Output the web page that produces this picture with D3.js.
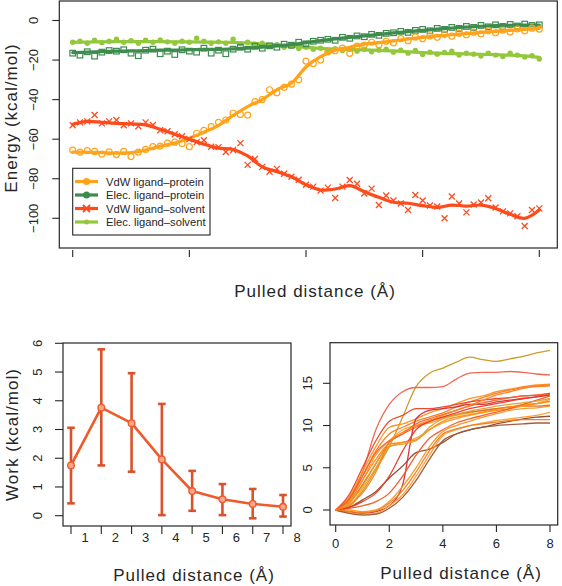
<!DOCTYPE html>
<html><head><meta charset="utf-8">
<script src="https://cdn.jsdelivr.net/npm/d3@7"></script>
<style>
body{margin:0;background:#fff}
svg{display:block}
text{font-family:"Liberation Sans",Arial,Helvetica,sans-serif;fill:#262626}
</style>
</head><body>
<svg id="c" width="562" height="586"></svg>
<script>
// ---------------- DATA ----------------
// Top panel: energies vs pulled distance (points every 0.125 Å, fits every 0.25 Å)
const energyDist = d3.range(65).map(i => i * 0.125);
const fitDist = d3.range(33).map(i => i * 0.25);
const seriesNames = ["VdW ligand\u2013protein", "Elec. ligand\u2013protein", "VdW ligand\u2013solvent", "Elec. ligand\u2013solvent"];
const seriesColors = ["#FFA31A", "#3E8B4E", "#FF4A1C", "#93C83A"];

const vdwProtein = [-65.5,-66.5,-65.8,-66.2,-67.5,-66.4,-67.8,-66.2,-68.8,-66.5,-65.2,-63.8,-63.5,-62,-61.5,-62.2,-63.8,-57,-55.5,-53.7,-51.5,-50.3,-46.9,-47.5,-47.8,-41,-40,-35,-36.5,-33.8,-32.2,-30,-20.5,-21.8,-20,-15.8,-15.3,-14,-16.6,-13,-12.4,-11,-12.2,-10.5,-11.3,-9.2,-10.2,-8.3,-9.2,-7.8,-8.5,-7,-7.9,-6.4,-7.2,-5.9,-6.7,-5.2,-6.2,-4.9,-5.8,-4.3,-5.2,-3.9,-4.4];
const elecProtein = [-16.5,-17.5,-15.8,-18,-16,-15.2,-15.5,-14.8,-16.5,-17.8,-15,-14.5,-16.8,-15.5,-17.2,-14.8,-15.5,-16,-14,-16.5,-15,-16.8,-14.5,-13.5,-14.5,-13,-14,-12.8,-13.5,-12,-12.5,-11,-11.8,-10.5,-10,-9.5,-10,-8.5,-9,-7.8,-8.2,-7,-7.5,-6.5,-6.2,-5.5,-6,-5,-4.5,-5.2,-4,-4.5,-3.5,-4,-3,-3.5,-2.5,-3.2,-2.2,-3,-2,-2.8,-1.8,-2.5,-2.2];
const vdwSolvent = [-53,-51.5,-51,-47.8,-52,-51,-50.3,-53,-52,-53.5,-51.5,-52.8,-55.5,-56,-57.5,-58.5,-60,-61.5,-60.5,-63.8,-64,-66.5,-65.5,-62,-73,-70,-74,-76.5,-75,-77.5,-79,-80.5,-83,-84,-86,-84.5,-89.7,-84,-80.6,-82.5,-87.5,-85,-93.3,-88.5,-91,-92.5,-95.8,-88.2,-91,-93.5,-94,-100,-89,-92.5,-97,-93,-92,-89.9,-94.5,-96.5,-97.5,-99,-103.9,-95.8,-95];
const elecSolvent = [-11,-10.5,-11.5,-10,-11.2,-10.5,-9.5,-11,-10.2,-11.5,-10,-11,-9.8,-10.8,-11.5,-10.5,-11,-9,-10.5,-11.5,-10.8,-11.5,-9.5,-11.8,-11,-12,-11.5,-12.8,-12.2,-13.5,-13,-14.2,-13.5,-14.5,-14,-15,-14.2,-15.2,-14.5,-15.5,-14.5,-15.8,-15,-14.5,-16,-15,-16.5,-15.2,-17.2,-16,-17,-16.2,-15.5,-17.5,-16.5,-17,-18,-16.5,-17.5,-18.2,-16.5,-17.5,-18.5,-17.8,-19.5];

const vdwProteinFit = [-66.5,-66.6,-66.8,-67,-66.8,-65.5,-63.5,-62,-59.5,-56.5,-53,-48,-43.5,-40,-35,-31.7,-23.5,-18.3,-15,-13.5,-12,-11.2,-10.3,-9.3,-8.5,-7.8,-7.2,-6.6,-6,-5.5,-5,-4.5,-4];
const elecProteinFit = [-16.2,-16,-15.7,-15.5,-15.4,-15.2,-15,-15,-14.8,-14.6,-14.6,-14.3,-14,-13.5,-12.9,-12.2,-11.2,-10.2,-9.3,-8.5,-7.8,-7,-6.3,-5.6,-5,-4.4,-3.8,-3.3,-2.9,-2.6,-2.4,-2.3,-2.3];
const vdwSolventFit = [-52.5,-51,-51.5,-52,-52.3,-52.8,-55,-57.5,-60,-62.5,-64.5,-65.2,-68.5,-74,-76.4,-79,-83,-85.7,-85.2,-83.5,-86.5,-89.4,-91.9,-92.4,-93.6,-94.5,-93.3,-93.8,-93.3,-95,-98,-100,-95.8];
const elecSolventFit = [-11,-10.9,-10.8,-10.7,-10.7,-10.7,-10.7,-10.8,-10.8,-10.9,-11,-11.1,-11.3,-11.8,-12.3,-12.9,-13.6,-14.1,-14.4,-14.7,-14.9,-15.1,-15.4,-15.8,-16.2,-16.5,-16.7,-16.9,-17.1,-17.3,-17.5,-17.9,-18.6];

const energyTicksY = [0,-20,-40,-60,-80,-100];
const energyTicksX = [0,2,4,6,8];

// Bottom-left: work per distance bin
const workBin = [1,2,3,4,5,6,7,8];
const workMean = [1.75,3.76,3.22,1.96,0.86,0.57,0.41,0.31];
const workLow  = [0.43,1.75,1.53,0.02,0.17,0.02,-0.09,-0.03];
const workHigh = [3.06,5.79,4.96,3.89,1.56,1.10,0.93,0.72];
const workTicksY = [0,1,2,3,4,5,6];

// Bottom-right: individual pulling work curves (values every 0.5 Å)
const curveDist = d3.range(17).map(i => i * 0.5);
const pullCurves = [
  [0,0.4,2.2,4.8,7.5,11,14.6,16.2,16.8,17.5,18.1,17.8,17.6,17.9,18.2,18.6,18.9],
  [0,1.2,4.5,9.5,12.5,14,14.5,14.5,14.6,15.5,16.2,16.3,16.3,16.4,16.3,16.1,16],
  [0,1.5,4.5,7.5,9.8,10.2,10.8,11.5,12,12.6,13.2,13.5,14,14.3,14.6,14.8,14.9],
  [0,1.2,4,7,9,9.8,10.5,11,11.5,12.2,12.8,13.3,13.8,14.2,14.5,14.6,14.7],
  [0,1.8,5,8.2,10.5,11.2,12,12,12.2,12.5,12.8,13,13.2,13.3,13.5,13.6,13.8],
  [0,1,3.5,6.5,8.2,9.5,10,10.3,10.8,11.2,11.5,11.8,12,12.2,12.5,12.6,12.8],
  [0,0.8,3,5.5,8,9,9.8,10.5,11,11.3,11.6,11.8,12,12.2,12.3,12.3,12.4],
  [0,0.5,2.5,5,7.5,8,8.5,9.5,10.3,10.8,11.2,11.5,11.8,12,12.3,12.6,13.1],
  [0,0.3,1.2,2.2,3.8,5.2,6.8,7.2,8,9,9.5,9.8,10.2,10.5,10.8,11,11.1],
  [0,-0.2,-0.4,-0.2,0.5,3,10.8,11.8,12,12.2,12.5,12.5,12.8,13,13.2,13.4,13.6],
  [0,-0.3,-0.5,-0.4,0.5,1.8,4,6.5,8.8,9.5,10,10.3,10.6,10.8,11,11.2,11.6],
  [0,-0.2,-0.3,-0.1,0.8,2.3,4.5,7,9,9.6,10,10.2,10.4,10.6,10.7,10.7,10.7],
  [0,-0.4,-0.6,-0.5,0.2,1.5,3.5,6,8.2,9,9.5,9.8,10,10.1,10.2,10.3,10.3],
  [0,0,-0.2,0,1,2.8,5,7.5,9.3,10,10.5,11,11.4,11.8,12,12.1,12.3],
  [0,0.2,0.5,1,2,4,6.5,8.5,9.5,10.3,10.8,11.2,11.6,12,12.5,13,13.5],
  [0,0.3,1,2,4,7,9.5,10.5,11,11.5,12,12.3,12.6,12.9,13.2,13.4,13.8],
  [0,1,3.5,6,7.8,8,8.3,9.5,10.5,11,11.3,11.6,11.9,12.2,12.4,12.6,12.9],
  [0,0.8,2.8,5.5,7.5,7.8,8.2,9.8,10.8,11.3,11.7,12,12.3,12.5,12.7,12.9,13.2],
  [0,1.3,4,6.8,8.2,9,10.2,10.8,11.3,11.8,12.3,12.7,13,13.3,13.5,13.6,13.7],
  [0,0.6,2,4.5,8,9.2,10,10.6,11.2,11.8,12.4,13,13.6,14,14.4,14.7,14.8]
];
const curveColors = ["#C9961E","#F0604A","#FF8C1A","#F47A20","#E8452A","#FFA030","#E06A1E","#F59A2A","#8F4A2A","#D42A3A","#FF9A2A","#F07C1E","#9A5535","#F7931E","#EE5A24","#E63A2A","#FF8A10","#DAA030","#F06428","#FF7F1A"];
const pullTicksX = [0,2,4,6,8];
const pullTicksY = [0,5,10,15];

// ---------------- DRAW ----------------
const svg = d3.select("#c");
const ink = "#262626";
const minus = d => d < 0 ? "\u2212" + Math.abs(d) : String(d);

function box(x0, y0, x1, y1) {
  svg.append("rect").attr("x", x0).attr("y", y0).attr("width", x1 - x0).attr("height", y1 - y0)
    .attr("fill", "none").attr("stroke", ink).attr("stroke-width", 1.2);
}
function yAxis(scale, ticks, xEdge, len, labelX, size) {
  const g = svg.append("g");
  g.selectAll("line").data(ticks).join("line")
    .attr("x1", xEdge - len).attr("x2", xEdge).attr("y1", d => scale(d)).attr("y2", d => scale(d))
    .attr("stroke", ink).attr("stroke-width", 1.1);
  g.selectAll("text").data(ticks).join("text")
    .attr("transform", d => `translate(${labelX},${scale(d)}) rotate(-90)`)
    .attr("text-anchor", "middle").attr("font-size", size).text(minus);
}
function xTicks(scale, ticks, yEdge, len) {
  svg.append("g").selectAll("line").data(ticks).join("line")
    .attr("x1", d => scale(d)).attr("x2", d => scale(d)).attr("y1", yEdge).attr("y2", yEdge + len)
    .attr("stroke", ink).attr("stroke-width", 1.1);
}
function xLabels(scale, ticks, dx, yBase, size) {
  svg.append("g").selectAll("text").data(ticks).join("text")
    .attr("x", d => scale(d) + dx).attr("y", yBase).attr("text-anchor", "middle")
    .attr("font-size", size).text(d => d);
}
function title(txt, x, y, rot, size) {
  svg.append("text").attr("transform", `translate(${x},${y})` + (rot ? " rotate(-90)" : ""))
    .attr("text-anchor", "middle").attr("font-size", size).attr("letter-spacing", 1).text(txt);
}

// ===== Top panel =====
const xE = d3.scaleLinear([0, 8], [72.7, 539.3]);
const yE = d3.scaleLinear([0, -100], [20.5, 218.3]);
box(59.3, 1, 557.3, 248);
yAxis(yE, energyTicksY, 59.3, 7, 38, 13);
xTicks(xE, energyTicksX, 250, 7);
title("Energy (kcal/mol)", 16.5, 118, true, 17);
title("Pulled distance (\u00C5)", 315, 297, false, 17);

const pointSets = [vdwProtein, elecProtein, vdwSolvent, elecSolvent];
const fitSets = [vdwProteinFit, elecProteinFit, vdwSolventFit, elecSolventFit];
const line = d3.line().curve(d3.curveCatmullRom.alpha(0.5));

function drawMarkers(k, data) {
  const g = svg.append("g");
  const c = seriesColors[k];
  const pts = data.map((v, i) => [xE(energyDist[i]), yE(v)]);
  if (k === 0) {
    g.selectAll("circle").data(pts).join("circle").attr("cx", d => d[0]).attr("cy", d => d[1])
      .attr("r", 3).attr("fill", "none").attr("stroke", c).attr("stroke-width", 1.2);
  } else if (k === 1) {
    g.selectAll("rect").data(pts).join("rect").attr("x", d => d[0] - 2.8).attr("y", d => d[1] - 2.8)
      .attr("width", 5.6).attr("height", 5.6).attr("fill", "none").attr("stroke", c).attr("stroke-width", 1.2);
  } else if (k === 2) {
    g.selectAll("path").data(pts).join("path")
      .attr("d", d => `M${d[0]-3},${d[1]-3}L${d[0]+3},${d[1]+3}M${d[0]-3},${d[1]+3}L${d[0]+3},${d[1]-3}`)
      .attr("stroke", c).attr("stroke-width", 1.3).attr("fill", "none");
  } else {
    g.selectAll("circle").data(pts).join("circle").attr("cx", d => d[0]).attr("cy", d => d[1])
      .attr("r", 2.7).attr("fill", c);
  }
}
function drawFit(k) {
  svg.append("path").attr("d", line(fitSets[k].map((v, i) => [xE(fitDist[i]), yE(v)])))
    .attr("fill", "none").attr("stroke", seriesColors[k]).attr("stroke-width", 3.2)
    .attr("stroke-linejoin", "round").attr("stroke-linecap", "round");
}
[3, 1, 0, 2].forEach(k => { drawMarkers(k, pointSets[k]); drawFit(k); });

// legend
svg.append("rect").attr("x", 72.7).attr("y", 168.3).attr("width", 137.3).attr("height", 66.7)
  .attr("fill", "#fff").attr("stroke", ink).attr("stroke-width", 1.1);
const legY = [181.5, 195, 208.5, 222];
seriesNames.forEach((name, k) => {
  const y = legY[k], c = seriesColors[k];
  svg.append("line").attr("x1", 75).attr("x2", 98).attr("y1", y).attr("y2", y)
    .attr("stroke", c).attr("stroke-width", 3.2);
  if (k === 2) {
    svg.append("path").attr("d", `M83,${y-3.5}L90,${y+3.5}M83,${y+3.5}L90,${y-3.5}`)
      .attr("stroke", c).attr("stroke-width", 2);
  } else {
    svg.append("circle").attr("cx", 86.5).attr("cy", y).attr("r", k === 3 ? 2.5 : 3.5).attr("fill", c);
  }
  svg.append("text").attr("x", 106).attr("y", y + 4).attr("font-size", 11.2).attr("fill", "#333").text(name);
});

// ===== Bottom-left panel =====
const xW = d3.scaleLinear([1, 8], [71, 283]);
const yW = d3.scaleLinear([0, 6], [515.7, 343.3]);
box(63, 343, 291, 526);
yAxis(yW, workTicksY, 63, 8, 41.5, 13);
xTicks(xW, workBin, 526, 8);
xLabels(xW, workBin, 14, 541.7, 13);
title("Work (kcal/mol)", 18, 434.5, true, 17);
title("Pulled distance (\u00C5)", 194, 580.5, false, 17);

const barCol = "#D9522C", lineCol = "#EF5A2A";
const eb = svg.append("g").attr("stroke", barCol).attr("stroke-width", 2.6);
workBin.forEach((b, i) => {
  const x = xW(b);
  eb.append("line").attr("x1", x).attr("x2", x).attr("y1", yW(workLow[i])).attr("y2", yW(workHigh[i]));
  eb.append("line").attr("x1", x - 3.8).attr("x2", x + 3.8).attr("y1", yW(workLow[i])).attr("y2", yW(workLow[i]));
  eb.append("line").attr("x1", x - 3.8).attr("x2", x + 3.8).attr("y1", yW(workHigh[i])).attr("y2", yW(workHigh[i]));
});
svg.append("path").attr("d", d3.line()(workBin.map((b, i) => [xW(b), yW(workMean[i])])))
  .attr("fill", "none").attr("stroke", lineCol).attr("stroke-width", 2.6).attr("stroke-linejoin", "round");
svg.append("g").selectAll("circle").data(workBin).join("circle")
  .attr("cx", d => xW(d)).attr("cy", (d, i) => yW(workMean[i])).attr("r", 3.3)
  .attr("fill", "#F7A88A").attr("stroke", lineCol).attr("stroke-width", 1.4);

// ===== Bottom-right panel =====
const xP = d3.scaleLinear([0, 8], [335.7, 550]);
const yP = d3.scaleLinear([0, 15], [510, 383.3]);
box(330, 342.7, 557.7, 525);
yAxis(yP, pullTicksY, 330, 7, 311.5, 13);
xTicks(xP, pullTicksX, 525, 7);
xLabels(xP, pullTicksX, 0, 548, 13);
title("Pulled distance (\u00C5)", 461, 578.5, false, 17);

const cl = d3.line().curve(d3.curveMonotoneX);
svg.append("g").selectAll("path").data(pullCurves).join("path")
  .attr("d", c => cl(c.map((v, i) => [xP(curveDist[i]), yP(v)])))
  .attr("fill", "none").attr("stroke", (c, i) => curveColors[i]).attr("stroke-width", 1.3)
  .attr("stroke-opacity", 0.95);
</script>
</body></html>
